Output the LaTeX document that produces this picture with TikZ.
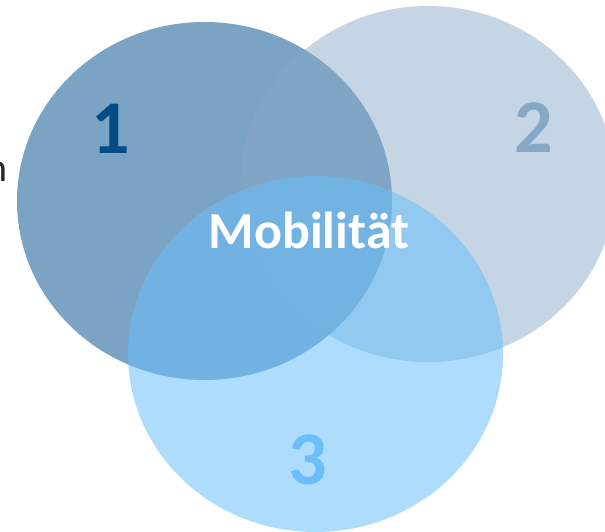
\documentclass[tikz,border=0pt]{standalone}
\usepackage{fontspec}
\setmainfont{Carlito}
\definecolor{cone}{RGB}{123,164,196}
\definecolor{ctwo}{RGB}{134,168,199}
\definecolor{cthree}{RGB}{106,191,251}
\definecolor{labone}{RGB}{4,76,135}
\definecolor{textgray}{RGB}{38,38,38}
\tikzset{
  circlabel/.style={inner sep=0pt, font=\fontsize{76}{80}\selectfont\bfseries},
  centerlabel/.style={inner sep=0pt, text=white, font=\fontsize{52}{56}\selectfont\bfseries},
}
\begin{document}
\begin{tikzpicture}[x=1pt,y=-1pt]
\useasboundingbox (0,0) rectangle (605,532);
\node[anchor=east, inner sep=0pt, text=textgray, font=\fontsize{40}{44}\selectfont] (cut) at (8,172) {n};
\fill[cone] (204.5,201) ellipse [x radius=187.5, y radius=179];
\fill[ctwo, fill opacity=0.48] (428,184) ellipse [x radius=187.5, y radius=178];
\fill[cthree, fill opacity=0.55] (315.5,354) ellipse [x radius=187.5, y radius=178];
\node[circlabel, text=labone] (one) at (111,129) {1};
\node[circlabel, text=ctwo] (two) at (534,128) {2};
\node[circlabel, text=cthree] (three) at (308,460) {3};
\node[centerlabel] (mob) at (309,230) {Mobilität};
\end{tikzpicture}
\end{document}
